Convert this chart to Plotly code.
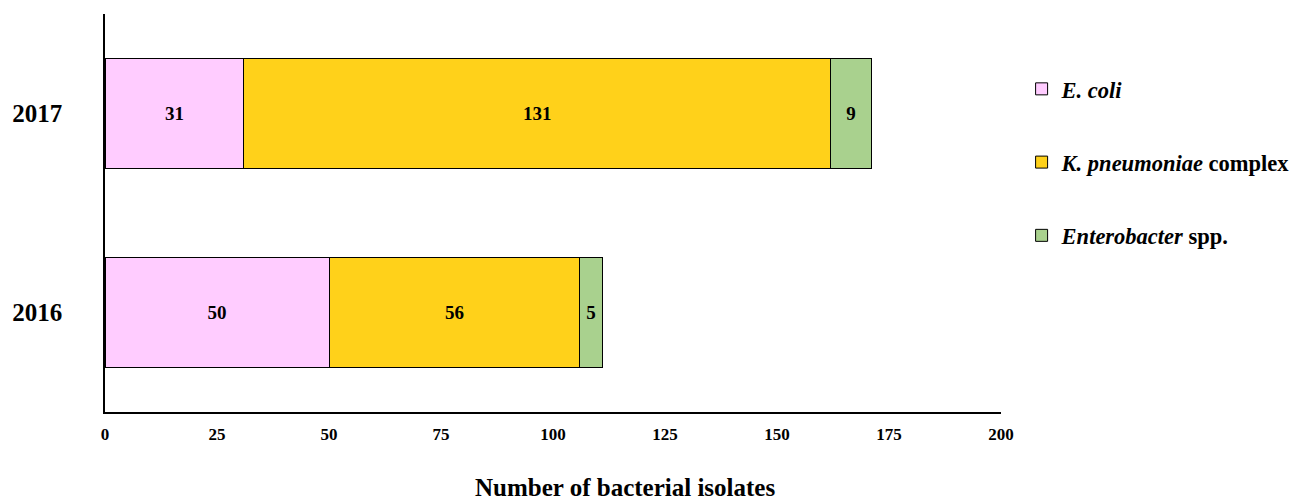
import plotly.graph_objects as go

years = ["2016", "2017"]
ecoli = [50, 31]
kpneu = [56, 131]
entero = [5, 9]

series = [
    ("<b><i>E. coli</i></b>", ecoli, "#FFCCFF"),
    ("<b><i>K. pneumoniae</i> complex</b>", kpneu, "#FFD11A"),
    ("<b><i>Enterobacter</i> spp.</b>", entero, "#A9D18E"),
]
x_ticks = [0, 25, 50, 75, 100, 125, 150, 175, 200]

font_family = "Liberation Serif, Times New Roman, serif"

fig = go.Figure()
for i, (name, vals, color) in enumerate(series):
    fig.add_trace(go.Bar(
        y=years, x=vals, orientation="h", name=name,
        marker=dict(color=color, line=dict(color="black", width=1)),
        text=[f"<b>{v}</b>" for v in vals],
        textposition="inside", insidetextanchor="middle", textangle=0,
        textfont=dict(family=font_family, size=19, color="black"),
        legendgroup=f"g{i}",
        width=0.555,
    ))

fig.add_annotation(
    text="<b>Number of bacterial isolates</b>",
    xref="paper", yref="paper", x=0.58, y=-0.19,
    xanchor="center", yanchor="middle", showarrow=False,
    font=dict(family=font_family, size=25, color="black"),
)

fig.update_layout(
    barmode="stack",
    width=1303, height=501,
    margin=dict(l=97, r=310, t=6, b=97, autoexpand=False),
    paper_bgcolor="white", plot_bgcolor="white",
    font=dict(family=font_family, color="black"),
    showlegend=True,
    legend=dict(
        x=1.023, y=0.865, xanchor="left", yanchor="top",
        font=dict(family=font_family, size=22.5, color="black"),
        tracegroupgap=41, traceorder="grouped",
        bgcolor="rgba(0,0,0,0)",
    ),
    xaxis=dict(
        range=[0, 200], tickvals=x_ticks,
        ticktext=[f"<b>{v}</b>" for v in x_ticks],
        tickfont=dict(family=font_family, size=17, color="black"),
        showline=True, linecolor="black", linewidth=1.5,
        showgrid=False, zeroline=False, ticks="", ticklabelstandoff=6,
        automargin=False,
    ),
    yaxis=dict(
        range=[-0.5, 1.5],
        tickvals=years, ticktext=[f"<b>{y}</b>" for y in years],
        tickfont=dict(family=font_family, size=25, color="black"),
        showline=True, linecolor="black", linewidth=1.5,
        showgrid=False, zeroline=False, ticks="", ticklabelstandoff=36,
        automargin=False,
    ),
)

fig.write_html("out.html")
